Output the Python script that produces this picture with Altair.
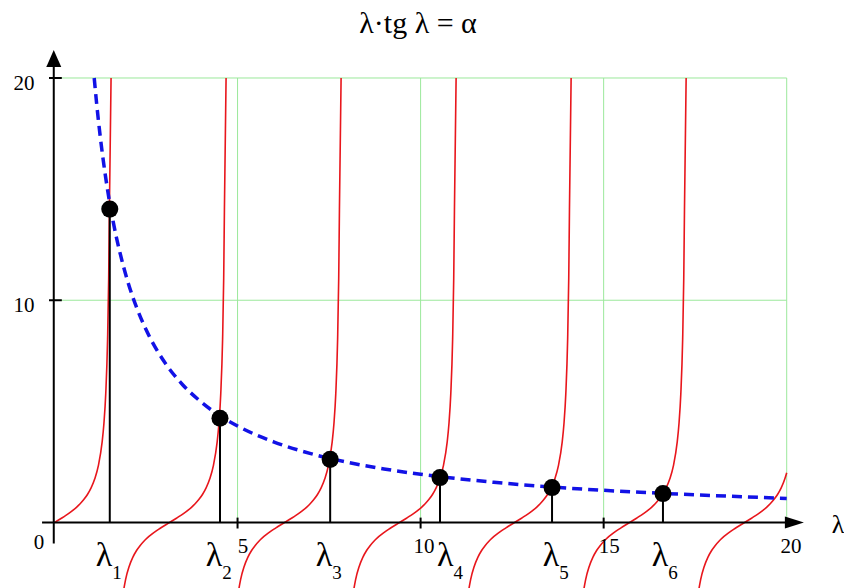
import altair as alt
import pandas as pd

# ---------------- data ----------------
# centres of the tg(lambda) branches (where the red curve crosses zero)
BRANCH_CENTERS = [0.0, 3.1416, 6.2832, 9.4248, 12.5664, 15.7080, 18.8496]
# shape of one red branch: offset from its centre -> value
TAN_OFFSETS = [-1.545, -1.52, -1.51, -1.50, -1.48, -1.45, -1.40, -1.35, -1.30, -1.20,
               -1.10, -1.00, -0.90, -0.80, -0.70, -0.60, -0.50, -0.40, -0.30, -0.20,
               -0.10, 0.0, 0.10, 0.20, 0.30, 0.40, 0.50, 0.60, 0.70, 0.80, 0.90,
               1.00, 1.10, 1.20, 1.30, 1.35, 1.40, 1.45, 1.48, 1.50, 1.545]
TAN_VALUES = [-38.7, -19.67, -16.43, -14.10, -10.98, -8.24, -5.80, -4.455, -3.602, -2.572,
              -1.965, -1.557, -1.260, -1.030, -0.842, -0.684, -0.546, -0.423, -0.309, -0.203,
              -0.100, 0.0, 0.100, 0.203, 0.309, 0.423, 0.546, 0.684, 0.842, 1.030, 1.260,
              1.557, 1.965, 2.572, 3.602, 4.455, 5.80, 8.24, 10.98, 14.10, 20.0]
RED_END_X = 20.0
RED_END_Y = 2.24

# blue dashed curve alpha / lambda
BLUE_X = [1.085, 1.15, 1.25, 1.4, 1.6, 1.8, 2.0, 2.25, 2.5, 3.0, 3.5, 4.0, 4.5, 5.0,
          6.0, 7.0, 8.0, 9.0, 10.0, 12.0, 14.0, 16.0, 18.0, 20.0]
BLUE_Y = [20.0, 18.87, 17.36, 15.5, 13.56, 12.06, 10.85, 9.64, 8.68, 7.23, 6.20, 5.43,
          4.82, 4.34, 3.62, 3.10, 2.71, 2.41, 2.17, 1.81, 1.55, 1.36, 1.21, 1.085]

# roots lambda_1 .. lambda_6
ROOT_X = [1.51, 4.52, 7.53, 10.53, 13.59, 16.62]
ROOT_Y = [14.1, 4.69, 2.84, 2.02, 1.57, 1.30]
ROOT_SUBS = ["1", "2", "3", "4", "5", "6"]
ROOT_LABEL_X = [1.35, 4.36, 7.36, 10.67, 13.56, 16.54]

X_GRID = [5, 10, 15, 20]
Y_GRID = [10, 20]
X_TICKS = [5, 10, 15]
Y_TICKS = [10, 20]
X_TICK_TEXT = ["0", "5", "10", "15", "20"]
X_TICK_TEXT_POS = [-0.42, 5.15, 10.09, 15.15, 20.12]
Y_TICK_TEXT = ["10", "20"]

TITLE = "λ·tg λ = α"
AXIS_NAME = "λ"

# ---------------- layout ----------------
W, H = 836, 580
XD = [-1.270, 21.565]
YD = [-2.947, 23.149]
FONT = "Liberation Serif"
RED = "#e8161c"
BLUE = "#1212e6"
GREEN = "#9be89b"
PX = 36.61  # pixels per x unit, used only for the subscript offset


def X(f):
    return alt.X(f, type="quantitative", scale=alt.Scale(domain=XD, nice=False, zero=False), axis=None)


def Y(f):
    return alt.Y(f, type="quantitative", scale=alt.Scale(domain=YD, nice=False, zero=False), axis=None)


# red branches
rows = []
for k, c in enumerate(BRANCH_CENTERS):
    for d, v in zip(TAN_OFFSETS, TAN_VALUES):
        x = c + d
        if x < 0 or x > RED_END_X:
            continue
        rows.append({"x": x, "y": v, "b": k})
rows.append({"x": RED_END_X, "y": RED_END_Y, "b": len(BRANCH_CENTERS) - 1})
red_df = pd.DataFrame(rows)

blue_df = pd.DataFrame({"x": BLUE_X, "y": BLUE_Y})
roots_df = pd.DataFrame({"x": ROOT_X, "y": ROOT_Y, "y0": [0] * len(ROOT_X)})

grid_rows = [{"x": g, "x2": g, "y": 0, "y2": 20} for g in X_GRID] + \
            [{"x": 0, "x2": 20, "y": g, "y2": g} for g in Y_GRID]
grid_df = pd.DataFrame(grid_rows)

axis_rows = [{"x": -0.34, "x2": 20.0, "y": 0, "y2": 0},
             {"x": -0.02, "x2": -0.02, "y": -0.95, "y2": 20.5}]
axis_rows += [{"x": -0.15, "x2": 0.2, "y": t, "y2": t} for t in Y_TICKS]
axis_rows += [{"x": t, "x2": t, "y": -0.27, "y2": 0.22} for t in X_TICKS]
axis_df = pd.DataFrame(axis_rows)

txt = []
for p, t in zip(X_TICK_TEXT_POS, X_TICK_TEXT):
    txt.append({"x": p, "y": -0.92 if t == "0" else -1.08, "t": t, "s": 21, "bl": "m"})
for yv, t in zip(Y_TICKS, Y_TICK_TEXT):
    txt.append({"x": -0.83, "y": yv - 0.25, "t": t, "s": 21, "bl": "m"})
for lx, s in zip(ROOT_LABEL_X, ROOT_SUBS):
    txt.append({"x": lx, "y": -1.96, "t": "λ", "s": 34, "bl": "a"})
    txt.append({"x": lx + 13 / PX, "y": -2.52, "t": s, "s": 19, "bl": "a"})
txt.append({"x": 9.93, "y": 22.02, "t": TITLE, "s": 30, "bl": "a"})
txt.append({"x": 21.40, "y": -0.47, "t": AXIS_NAME, "s": 26, "bl": "a"})
txt_df = pd.DataFrame(txt)

grid = alt.Chart(grid_df).mark_rule(color=GREEN, strokeWidth=1).encode(
    x=X("x"), x2="x2", y=Y("y"), y2="y2")

red = alt.Chart(red_df).mark_line(color=RED, strokeWidth=1.6, clip=True,
                                  interpolate="monotone").encode(
    x=X("x"), y=Y("y"), detail="b:N", order="x:Q")

blue = alt.Chart(blue_df).mark_line(color=BLUE, strokeWidth=3.5, strokeDash=[10, 6],
                                    interpolate="monotone").encode(
    x=X("x"), y=Y("y"), order="x:Q")

stems = alt.Chart(roots_df).mark_rule(color="black", strokeWidth=2).encode(
    x=X("x"), y=Y("y0"), y2="y")

axes = alt.Chart(axis_df).mark_rule(color="black", strokeWidth=2).encode(
    x=X("x"), x2="x2", y=Y("y"), y2="y2")

arrow_r = alt.Chart(pd.DataFrame({"x": [20.21], "y": [0.0]})).mark_point(
    shape="M -1 -0.63 L 1 0 L -1 0.63 Z", filled=True, color="black", opacity=1, size=361,
    strokeWidth=0).encode(x=X("x"), y=Y("y"))
arrow_u = alt.Chart(pd.DataFrame({"x": [-0.02], "y": [20.88]})).mark_point(
    shape="M -0.88 1 L 0 -1 L 0.88 1 Z", filled=True, color="black", opacity=1, size=289,
    strokeWidth=0).encode(x=X("x"), y=Y("y"))

dots = alt.Chart(roots_df).mark_circle(color="black", opacity=1, size=290).encode(
    x=X("x"), y=Y("y"))

texts_mid = alt.Chart(txt_df[txt_df.bl == "m"]).mark_text(
    font=FONT, align="center", baseline="middle", color="black").encode(
    x=X("x"), y=Y("y"), text="t:N", size=alt.Size("s:Q", scale=None, legend=None))
texts_alpha = alt.Chart(txt_df[txt_df.bl == "a"]).mark_text(
    font=FONT, align="center", baseline="alphabetic", color="black").encode(
    x=X("x"), y=Y("y"), text="t:N", size=alt.Size("s:Q", scale=None, legend=None))

chart = alt.layer(grid, red, blue, stems, axes, arrow_r, arrow_u, dots,
                  texts_mid, texts_alpha).properties(
    width=W, height=H, autosize=alt.AutoSizeParams(type="none"), padding=0
).configure(font=FONT).configure_view(stroke=None)

chart.save("out.html", embed_options={"renderer": "svg", "actions": False})
